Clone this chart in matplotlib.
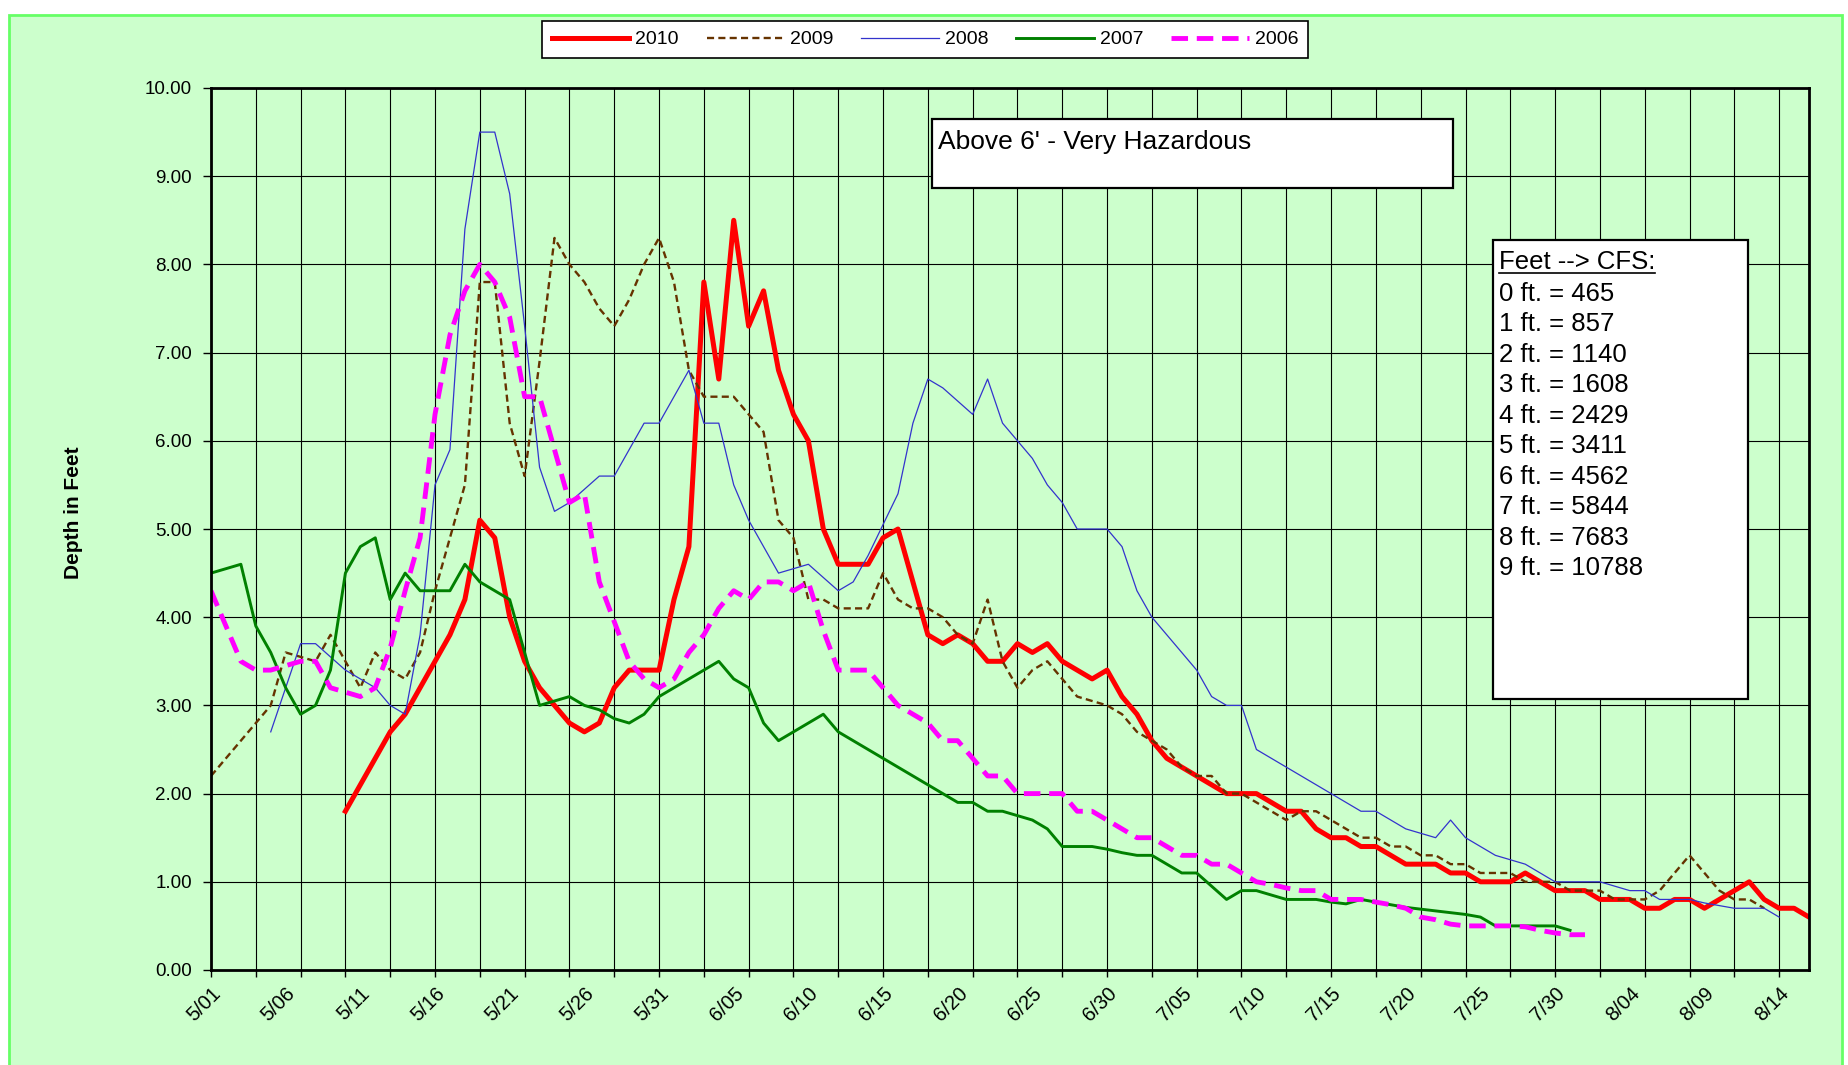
import numpy as np
import matplotlib
matplotlib.use("Agg")
import matplotlib.pyplot as plt
from matplotlib.patches import Rectangle
from matplotlib.lines import Line2D

plt.rcParams['font.family'] = ['Liberation Sans', 'DejaVu Sans']

N = None
n_days = 108  # 5/01 .. 8/16, one category per day
tick_labels = ["5/01", "5/06", "5/11", "5/16", "5/21", "5/26", "5/31", "6/05",
               "6/10", "6/15", "6/20", "6/25", "6/30", "7/05", "7/10", "7/15",
               "7/20", "7/25", "7/30", "8/04", "8/09", "8/14"]
y_ticks = [0, 1, 2, 3, 4, 5, 6, 7, 8, 9, 10]

depth_2010 = [N] * 9 + [
    1.8, 2.1, 2.4, 2.7, 2.9, 3.2, 3.5, 3.8, 4.2, 5.1,
    4.9, 4.0, 3.5, 3.2, 3.0, 2.8, 2.7, 2.8, 3.2, 3.4,
    3.4, 3.4, 4.2, 4.8, 7.8, 6.7, 8.5, 7.3, 7.7, 6.8,
    6.3, 6.0, 5.0, 4.6, 4.6, 4.6, 4.9, 5.0, 4.4, 3.8,
    3.7, 3.8, 3.7, 3.5, 3.5, 3.7, 3.6, 3.7, 3.5, 3.4,
    3.3, 3.4, 3.1, 2.9, 2.6, 2.4, 2.3, 2.2, 2.1, 2.0,
    2.0, 2.0, 1.9, 1.8, 1.8, 1.6, 1.5, 1.5, 1.4, 1.4,
    1.3, 1.2, 1.2, 1.2, 1.1, 1.1, 1.0, 1.0, 1.0, 1.1,
    1.0, 0.9, 0.9, 0.9, 0.8, 0.8, 0.8, 0.7, 0.7, 0.8,
    0.8, 0.7, 0.8, 0.9, 1.0, 0.8, 0.7, 0.7, 0.6]

depth_2009 = [
    2.2, 2.4, 2.6, 2.8, 3.0, 3.6, 3.55, 3.5, 3.8, 3.5,
    3.2, 3.6, 3.4, 3.3, 3.6, 4.3, 4.9, 5.5, 7.8, 7.8,
    6.2, 5.6, 6.9, 8.3, 8.0, 7.8, 7.5, 7.3, 7.6, 8.0,
    8.3, 7.8, 6.8, 6.5, 6.5, 6.5, 6.3, 6.1, 5.1, 4.9,
    4.2, 4.2, 4.1, 4.1, 4.1, 4.5, 4.2, 4.1, 4.1, 4.0,
    3.8, 3.7, 4.2, 3.5, 3.2, 3.4, 3.5, 3.3, 3.1, 3.05,
    3.0, 2.9, 2.7, 2.6, 2.5, 2.3, 2.2, 2.2, 2.0, 2.0,
    1.9, 1.8, 1.7, 1.8, 1.8, 1.7, 1.6, 1.5, 1.5, 1.4,
    1.4, 1.3, 1.3, 1.2, 1.2, 1.1, 1.1, 1.1, 1.0, 1.0,
    1.0, 0.9, 0.9, 0.9, 0.8, 0.8, 0.8, 0.9, 1.1, 1.3,
    1.1, 0.9, 0.8, 0.8, 0.7] + [N] * 3

depth_2008 = [N] * 4 + [
    2.7, 3.2, 3.7, 3.7, 3.55, 3.4, 3.3, 3.2, 3.0, 2.9,
    3.8, 5.5, 5.9, 8.4, 9.5, 9.5, 8.8, 7.3, 5.7, 5.2,
    5.3, 5.45, 5.6, 5.6, 5.9, 6.2, 6.2, 6.5, 6.8, 6.2,
    6.2, 5.5, 5.1, 4.8, 4.5, 4.55, 4.6, 4.45, 4.3, 4.4,
    4.7, 5.05, 5.4, 6.2, 6.7, 6.6, 6.45, 6.3, 6.7, 6.2,
    6.0, 5.8, 5.5, 5.3, 5.0, 5.0, 5.0, 4.8, 4.3, 4.0,
    3.8, 3.6, 3.4, 3.1, 3.0, 3.0, 2.5, 2.4, 2.3, 2.2,
    2.1, 2.0, 1.9, 1.8, 1.8, 1.7, 1.6, 1.55, 1.5, 1.7,
    1.5, 1.4, 1.3, 1.25, 1.2, 1.1, 1.0, 1.0, 1.0, 1.0,
    0.95, 0.9, 0.9, 0.8, 0.8, 0.8, 0.76, 0.73, 0.7, 0.7, 0.7, 0.6] + [N] * 2

depth_2007 = [
    4.5, 4.55, 4.6, 3.9, 3.6, 3.2, 2.9, 3.0, 3.4, 4.5,
    4.8, 4.9, 4.2, 4.5, 4.3, 4.3, 4.3, 4.6, 4.4, 4.3,
    4.2, 3.6, 3.0, 3.05, 3.1, 3.0, 2.95, 2.85, 2.8, 2.9,
    3.1, 3.2, 3.3, 3.4, 3.5, 3.3, 3.2, 2.8, 2.6, 2.7,
    2.8, 2.9, 2.7, 2.6, 2.5, 2.4, 2.3, 2.2, 2.1, 2.0,
    1.9, 1.9, 1.8, 1.8, 1.75, 1.7, 1.6, 1.4, 1.4, 1.4,
    1.37, 1.33, 1.3, 1.3, 1.2, 1.1, 1.1, 0.95, 0.8, 0.9,
    0.9, 0.85, 0.8, 0.8, 0.8, 0.77, 0.75, 0.8, 0.77, 0.74,
    0.71, 0.69, 0.67, 0.65, 0.63, 0.6, 0.5, 0.5, 0.5, 0.5,
    0.5, 0.45] + [N] * 16

depth_2006 = [
    4.3, 3.9, 3.5, 3.4, 3.4, 3.45, 3.5, 3.5, 3.2, 3.15,
    3.1, 3.2, 3.65, 4.3, 4.9, 6.3, 7.2, 7.7, 8.0, 7.8,
    7.4, 6.5, 6.5, 5.9, 5.3, 5.4, 4.4, 3.95, 3.5, 3.3,
    3.2, 3.3, 3.6, 3.8, 4.1, 4.3, 4.2, 4.4, 4.4, 4.3,
    4.4, 3.85, 3.4, 3.4, 3.4, 3.2, 3.0, 2.9, 2.8, 2.6,
    2.6, 2.4, 2.2, 2.2, 2.0, 2.0, 2.0, 2.0, 1.8, 1.8,
    1.7, 1.6, 1.5, 1.5, 1.4, 1.3, 1.3, 1.2, 1.2, 1.1,
    1.0, 0.97, 0.93, 0.9, 0.9, 0.8, 0.8, 0.8, 0.77, 0.74,
    0.7, 0.6, 0.57, 0.52, 0.5, 0.5, 0.5, 0.5, 0.49, 0.45,
    0.42, 0.4, 0.4] + [N] * 15

feet_values = [0, 1, 2, 3, 4, 5, 6, 7, 8, 9]
cfs_values = [465, 857, 1140, 1608, 2429, 3411, 4562, 5844, 7683, 10788]

# ---------------------------------------------------------------- layout
W, H = 1849, 1065
def fx(px):
    return px / W
def fy(py):
    return 1 - py / H

fig = plt.figure(figsize=(W / 100, H / 100), dpi=100)
fig.patch.set_facecolor('white')

bg = Rectangle((fx(9), fy(1080)), fx(1842) - fx(9), fy(15) - fy(1080),
               transform=fig.transFigure, facecolor='#CCFFCC',
               edgecolor='#66FF66', linewidth=2, zorder=-10)
fig.add_artist(bg)

ax = fig.add_axes([fx(211), fy(970), fx(1809) - fx(211), (970 - 88) / H])
ax.set_facecolor('#CCFFCC')

x = np.arange(n_days)
series = [
    ("2010", depth_2010, dict(color='#FF0000', lw=3.6)),
    ("2009", depth_2009, dict(color='#663300', lw=1.7, dashes=(3.0, 1.8))),
    ("2008", depth_2008, dict(color='#3333CC', lw=0.9)),
    ("2007", depth_2007, dict(color='#008000', lw=2.1)),
    ("2006", depth_2006, dict(color='#FF00FF', lw=3.5, dashes=(3.4, 1.8))),
]
handles = []
for i, (name, vals, style) in enumerate(series):
    y = np.array(vals, dtype=float)
    h, = ax.plot(x, y, label=name, zorder=2 + i * 0.1, **style)
    handles.append(h)

ax.set_xlim(0, n_days - 1)
ax.set_ylim(0, 10)

ax.set_yticks(y_ticks)
ax.set_yticklabels([f"{v:.2f}" for v in y_ticks])
ax.tick_params(axis='y', direction='out', length=5.5, width=1, pad=8,
               labelsize=13.5, colors='black')

ax.xaxis.remove_overlapping_locs = False
ax.set_xticks(np.arange(0, n_days, 3))
ax.set_xticklabels([])
label_pos = np.arange(0, 5 * len(tick_labels), 5)
ax.set_xticks(label_pos, minor=True)
ax.set_xticklabels(tick_labels, minor=True, rotation=45, ha='right',
                   va='top', rotation_mode='anchor')
ax.tick_params(axis='x', which='major', direction='out', length=5, width=1)
ax.tick_params(axis='x', which='minor', length=0, pad=10, labelsize=14.5)

ax.grid(axis='y', color='black', lw=0.8)
ax.grid(axis='x', which='major', color='black', lw=0.8)
ax.set_axisbelow(True)
for s in ax.spines.values():
    s.set_linewidth(2)
    s.set_color('black')

fig.text(fx(74), fy(513), 'Depth in Feet', rotation=90, ha='center',
         va='center', fontsize=15, fontweight='bold')

leg = fig.legend(handles, [s[0] for s in series], loc='center',
                 bbox_to_anchor=(fx(925), fy(39.5)), ncol=5, frameon=True,
                 fancybox=False, edgecolor='black', framealpha=1,
                 fontsize=14, handlelength=4.0, handletextpad=0.3,
                 columnspacing=1.43, borderpad=0.5, borderaxespad=0)
leg.get_frame().set_linewidth(1.2)

# "Above 6'" box
fig.add_artist(Rectangle((fx(931.5), fy(188)), fx(1453) - fx(931.5),
                         fy(119) - fy(188), transform=fig.transFigure,
                         facecolor='white', edgecolor='black', lw=1.6,
                         zorder=5))
fig.text(fx(938), fy(149), "Above 6' - Very Hazardous", fontsize=19,
         va='baseline', ha='left', zorder=6)

# Feet --> CFS box
fig.add_artist(Rectangle((fx(1493), fy(699)), fx(1748) - fx(1493),
                         fy(240) - fy(699), transform=fig.transFigure,
                         facecolor='white', edgecolor='black', lw=1.6,
                         zorder=5))
hdr = fig.text(fx(1499), fy(269.3), "Feet --> CFS:", fontsize=18.5,
               va='baseline', ha='left', zorder=6)
for k, (ft, cfs) in enumerate(zip(feet_values, cfs_values)):
    fig.text(fx(1499), fy(300.7 + 30.5 * k), f"{ft} ft. = {cfs}",
             fontsize=18.5, va='baseline', ha='left', zorder=6)

fig.canvas.draw()
bb = hdr.get_window_extent(fig.canvas.get_renderer())
fig.add_artist(Line2D([bb.x0 / W, bb.x1 / W], [fy(272.5), fy(272.5)],
                      transform=fig.transFigure, color='black', lw=1.2,
                      zorder=6))

fig.savefig('out.png', dpi=100)
